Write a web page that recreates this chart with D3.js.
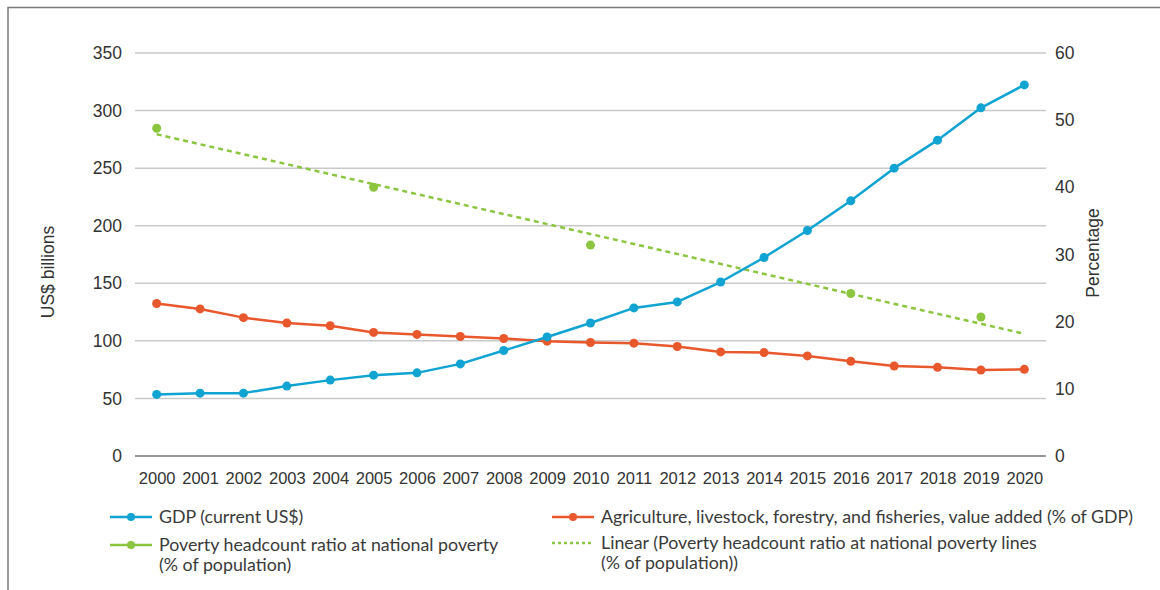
<!DOCTYPE html>
<style>
body { margin: 0; background: #fff; }
.axis-num { font-family: "Liberation Sans", Arial, sans-serif; fill: #333; }
.legend text { font-family: Lato, "Open Sans", sans-serif; font-size: 17.8px; fill: #3a3a3a; }
</style>
<svg width="1160" height="590"></svg>
<script src="https://d3js.org/d3.v7.min.js"></script>
<script>

var years = ["2000","2001","2002","2003","2004","2005","2006","2007","2008","2009","2010",
             "2011","2012","2013","2014","2015","2016","2017","2018","2019","2020"];

// GDP, current US$ billions (left axis)
var gdp = [53.5, 54.6, 54.6, 60.7, 65.9, 70.2, 72.2, 80.0, 91.6, 103.4, 115.5,
           128.6, 133.8, 151.1, 172.4, 195.8, 221.6, 250.0, 274.3, 302.4, 322.3];

// agriculture value added, % of GDP (right axis)
var agri = [22.7, 21.9, 20.6, 19.8, 19.4, 18.4, 18.1, 17.8, 17.5, 17.1, 16.9,
            16.8, 16.3, 15.5, 15.4, 14.9, 14.1, 13.4, 13.2, 12.8, 12.9];

// poverty headcount, % of population (right axis), only survey years
var povYears = ["2000", "2005", "2010", "2016", "2019"];
var poverty = [48.8, 40.0, 31.4, 24.2, 20.7];

// linear trend ends as drawn
var trendYears = ["2000", "2020"];
var trend = [47.9, 18.2];

var leftTicks = [0, 50, 100, 150, 200, 250, 300, 350];
var rightTicks = [0, 10, 20, 30, 40, 50, 60];

var blue = "#11a3d2", red = "#e9582d", green = "#8cc540";

var svg = d3.select("svg");

// frame (top and left only)
svg.append("path")
    .attr("d", "M8,590V7.5H1160")
    .attr("fill", "none")
    .attr("stroke", "#7a7a7a")
    .attr("stroke-width", 1.5);

var x = d3.scalePoint().domain(years).range([135, 1046]).padding(0.5);
var yL = d3.scaleLinear().domain([0, 350]).range([456, 53]);
var yR = d3.scaleLinear().domain([0, 60]).range([456, 53]);

// gridlines
svg.append("g")
    .selectAll("line")
    .data(leftTicks.filter(function(d) { return d > 0; }))
  .enter().append("line")
    .attr("x1", 135).attr("x2", 1046)
    .attr("y1", function(d) { return yL(d); })
    .attr("y2", function(d) { return yL(d); })
    .attr("stroke", "#c9c9c9")
    .attr("stroke-width", 1.5);

svg.append("line")
    .attr("x1", 135).attr("x2", 1046)
    .attr("y1", yL(0)).attr("y2", yL(0))
    .attr("stroke", "#333")
    .attr("stroke-width", 1.2);

// left axis
var axL = svg.append("g")
    .attr("transform", "translate(135,0)")
    .call(d3.axisLeft(yL).tickValues(leftTicks).tickSize(0).tickPadding(13));
axL.select(".domain").remove();
axL.selectAll("text").attr("class", "axis-num").style("font-size", "17.5px")
    .attr("font-family", null);

// right axis
var axR = svg.append("g")
    .attr("transform", "translate(1046,0)")
    .call(d3.axisRight(yR).tickValues(rightTicks).tickSize(0).tickPadding(9));
axR.select(".domain").remove();
axR.selectAll("text").attr("class", "axis-num").style("font-size", "17.5px")
    .attr("font-family", null);

// x axis
var axX = svg.append("g")
    .attr("transform", "translate(0,456)")
    .call(d3.axisBottom(x).tickSize(0).tickPadding(16));
axX.select(".domain").remove();
axX.selectAll("text").attr("class", "axis-num").style("font-size", "16.5px")
    .attr("font-family", null);

// axis titles
svg.append("text")
    .attr("class", "axis-num")
    .attr("transform", "translate(54,272) rotate(-90)")
    .attr("text-anchor", "middle")
    .style("font-size", "17.5px")
    .text("US$ billions");

svg.append("text")
    .attr("class", "axis-num")
    .attr("transform", "translate(1099,253) rotate(-90)")
    .attr("text-anchor", "middle")
    .style("font-size", "17.5px")
    .text("Percentage");

// trend line
var trendLine = d3.line()
    .x(function(d, i) { return x(trendYears[i]); })
    .y(function(d) { return yR(d); });

svg.append("path")
    .datum(trend)
    .attr("fill", "none")
    .attr("stroke", green)
    .attr("stroke-width", 2.5)
    .attr("stroke-dasharray", "5,4")
    .attr("d", trendLine);

// poverty points
svg.append("g")
    .selectAll("circle")
    .data(poverty)
  .enter().append("circle")
    .attr("cx", function(d, i) { return x(povYears[i]); })
    .attr("cy", function(d) { return yR(d); })
    .attr("r", 4.5)
    .attr("fill", green);

function series(vals, yScale, color) {
  var line = d3.line()
      .x(function(d, i) { return x(years[i]); })
      .y(function(d) { return yScale(d); });
  svg.append("path")
      .datum(vals)
      .attr("fill", "none")
      .attr("stroke", color)
      .attr("stroke-width", 2.5)
      .attr("stroke-linejoin", "round")
      .attr("d", line);
  svg.append("g")
      .selectAll("circle")
      .data(vals)
    .enter().append("circle")
      .attr("cx", function(d, i) { return x(years[i]); })
      .attr("cy", function(d) { return yScale(d); })
      .attr("r", 4.5)
      .attr("fill", color);
}

series(agri, yR, red);
series(gdp, yL, blue);

// legend
var legend = svg.append("g").attr("class", "legend");

var items = [
  {x: 110, y: 517, color: blue, dash: null, dot: true, lines: ["GDP (current US$)"]},
  {x: 110, y: 545, color: green, dash: null, dot: true, lines: ["Poverty headcount ratio at national poverty", "(% of population)"]},
  {x: 552, y: 517, color: red, dash: null, dot: true, lines: ["Agriculture, livestock, forestry, and fisheries, value added (% of GDP)"]},
  {x: 552, y: 543, color: green, dash: "3,3", dot: false, lines: ["Linear (Poverty headcount ratio at national poverty lines", "(% of population))"]}
];

items.forEach(function(it) {
  var g = legend.append("g").attr("transform", "translate(" + it.x + "," + it.y + ")");
  g.append("line")
      .attr("x1", 0).attr("x2", 42)
      .attr("stroke", it.color)
      .attr("stroke-width", 2.5)
      .attr("stroke-dasharray", it.dash);
  if (it.dot) {
    g.append("circle").attr("cx", 21).attr("r", 4).attr("fill", it.color);
  }
  it.lines.forEach(function(t, j) {
    g.append("text")
        .attr("x", 49)
        .attr("y", 6 + j * 20)
        .text(t);
  });
});

</script>
